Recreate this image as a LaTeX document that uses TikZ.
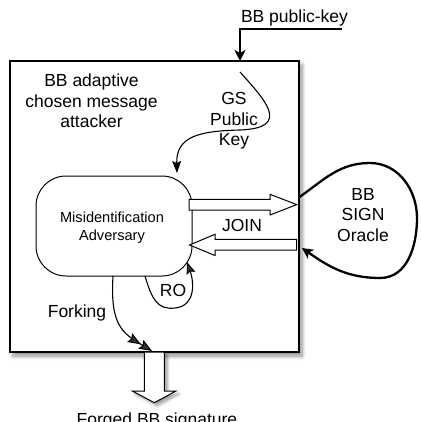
\documentclass[tikz,border=0pt]{standalone}
\usepackage{fontspec}
\setmainfont{Liberation Sans}
\usetikzlibrary{arrows.meta,shadows,shadows.blur}
\begin{document}
\begin{tikzpicture}[x=1pt,y=-1pt,
  big/.style={font=\fontsize{17.5}{20.5}\selectfont, align=center, inner sep=0pt},
  small/.style={font=\fontsize{14.6}{18}\selectfont, align=center, inner sep=0pt},
  thin tip/.style={-{Stealth[length=12pt,width=9pt,inset=2pt]}},
  thick tip/.style={-{Stealth[length=11pt,width=11pt,inset=3pt]}},
  fork tip/.style={-{Stealth[length=13pt,width=10pt,inset=2pt]Stealth[length=13pt,width=10pt,inset=2pt]}},
  conn/.style={line width=1.1pt},
  heavy/.style={line width=2.3pt},
  blockarrow/.style={draw, line width=1pt, fill=white},
  mainbox/.style={draw, line width=1.2pt, fill=white, minimum width=289pt, minimum height=291pt, inner sep=0pt,
    blur shadow={shadow xshift=3pt, shadow yshift=-4pt, shadow blur steps=8, shadow blur radius=4pt, shadow opacity=45}},
  advbox/.style={draw, line width=1pt, fill=white, rounded corners=30pt, minimum width=156pt, minimum height=100pt, inner sep=0pt}
]
\useasboundingbox (0,0) rectangle (420,422);

% main box
\node[mainbox] (box) at (154.5,206.5) {};

% texts
\node[big, anchor=base] (pk) at (294.5,22.5) {BB public-key};
\node[big] (attacker) at (91.5,101) {BB adaptive\\chosen message\\attacker};
\node[big] (gspk) at (234,121) {GS\\Public\\Key};
\node[advbox] (adv) at (114,226) {};
\node[small] (advtext) at (112,228) {Misidentification\\Adversary};
\node[big, anchor=base] (join) at (242,231) {JOIN};
\node[big] (oracle) at (363,215) {BB\\SIGN\\Oracle};
\node[big, anchor=base] (ro) at (173,296.5) {RO};
\node[big, anchor=base] (fork) at (77,317.5) {Forking};
\node[big, anchor=base] (forged) at (157,425.5) {Forged BB signature};

% coordinates for connector ends
\coordinate (pkstart) at (342,29);
\coordinate (pkbend) at (240,29);
\coordinate (pkend) at (240,61);
\coordinate (gsstart) at (240,72);
\coordinate (gsend) at (177,173);
\coordinate (orstart) at (299.5,197);
\coordinate (orend) at (302,248);
\coordinate (rostart) at (145,276);
\coordinate (roend) at (187,262);
\coordinate (fkstart) at (113,276);
\coordinate (fkend) at (152,351);

% BB public-key input
\draw[heavy, thick tip] (pkstart) -- (pkbend) -- (pkend);

% GS public key curve
\draw[conn, thin tip] (gsstart) .. controls (265,100) and (292,128) .. (240,130)
   .. controls (200,131) and (176,136) .. (gsend);

% block arrows
\draw[blockarrow] (189,199.3) -- (270,199.3) -- (270,194.3) -- (296.7,204.6) -- (270,215) -- (270,210) -- (189,210) -- cycle;
\draw[blockarrow] (296.7,239.3) -- (215,239.3) -- (215,234.3) -- (189.5,245) -- (215,255.5) -- (215,250) -- (296.7,250) -- cycle;
\draw[blockarrow, blur shadow={shadow xshift=3pt, shadow yshift=-3pt, shadow blur steps=6, shadow blur radius=3pt, shadow opacity=40}]
  (144.3,352) -- (144.3,391) -- (132.3,391) -- (154.3,402.7) -- (176,391) -- (164.3,391) -- (164.3,352) -- cycle;

% oracle loop
\draw[heavy, thick tip] (orstart) to[out=35,in=180] (370,163) to[out=0,in=90] (417,218)
   to[out=-90,in=0] (380,278) to[out=180,in=-35] (orend);

% RO loop
\draw[conn, thin tip] (rostart) .. controls (152,300) and (158,310) .. (175,308)
   .. controls (196,306) and (194,282) .. (roend);

% Forking
\draw[conn, fork tip] (fkstart) .. controls (110,325) and (122,333) .. (fkend);
\end{tikzpicture}
\end{document}
